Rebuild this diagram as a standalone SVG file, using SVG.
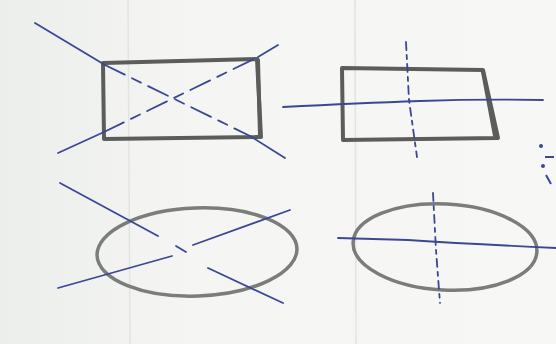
<svg xmlns="http://www.w3.org/2000/svg" width="556" height="344" viewBox="0 0 556 344">
  <defs>
    <linearGradient id="paper" x1="0" y1="0" x2="1" y2="0">
      <stop offset="0" stop-color="#eceeec"/>
      <stop offset="0.35" stop-color="#f5f6f4"/>
      <stop offset="1" stop-color="#f7f8f6"/>
    </linearGradient>
    <style>
      .shape { fill: none; stroke: #5a5d5a; stroke-width: 4; stroke-linejoin: round; stroke-linecap: round; }
      .soft { fill: none; stroke: #7a7d78; stroke-width: 3.5; }
      .pen { fill: none; stroke: #3b4795; stroke-width: 1.8; stroke-linecap: round; }
      .dash { stroke-dasharray: 22 8 10 8; }
      .vdash { stroke-dasharray: 8 5 4 5; }
      .margin { stroke: #e2e4e0; stroke-width: 1.5; }
    </style>
  </defs>
  <rect width="556" height="344" fill="url(#paper)"/>
  <line class="margin" x1="128" y1="0" x2="130" y2="344"/>
  <line class="margin" x1="355" y1="0" x2="356" y2="344"/>

  <g id="rect-cross">
    <path class="shape" d="M103 63 L257 59 L261 137 L104 139 Z"/>
    <path class="shape" d="M258 60 L260 136" stroke-width="6"/>
    <path class="pen" d="M35 23 L105 65"/>
    <path class="pen dash" d="M105 65 L250 136"/>
    <path class="pen" d="M250 136 L285 158"/>
    <path class="pen" d="M58 153 L104 132"/>
    <path class="pen dash" d="M104 132 L258 57"/>
    <path class="pen" d="M258 57 L278 45" stroke-width="2.6"/>
  </g>

  <g id="rect-center">
    <path class="shape" d="M342 68 L483 70 L498 138 L343 140 Z"/>
    <path class="shape" d="M483 72 L495 136" stroke-width="8" stroke="#666"/>
    <path class="pen" d="M283 107 Q360 103 420 101 T543 100"/>
    <path class="pen vdash" d="M406 42 L409 100 L417 157" stroke-width="2.2"/>
  </g>

  <g id="ellipse-cross">
    <ellipse class="soft" cx="197" cy="252" rx="100" ry="44" transform="rotate(-2 197 252)"/>
    <path class="pen" d="M60 183 L158 236"/>
    <path class="pen" d="M176 246 L186 252"/>
    <path class="pen" d="M208 268 L283 303"/>
    <path class="pen" d="M58 288 L172 256"/>
    <path class="pen" d="M193 245 L290 210"/>
  </g>

  <g id="ellipse-center">
    <ellipse class="soft" cx="445" cy="247" rx="92" ry="43" transform="rotate(3 445 247)"/>
    <path class="pen" d="M338 238 L408 240 Q470 244 556 248"/>
    <path class="pen vdash" d="M433 193 L436 250 L440 303" stroke-width="2.2"/>
  </g>

  <g id="edge-marks" fill="#3b4795">
    <circle cx="541" cy="146" r="2"/>
    <rect x="545" y="156" width="9" height="2"/>
    <circle cx="543" cy="166" r="2"/>
    <path d="M546 175 L551 184" stroke="#3b4795" stroke-width="2"/>
  </g>
</svg>
